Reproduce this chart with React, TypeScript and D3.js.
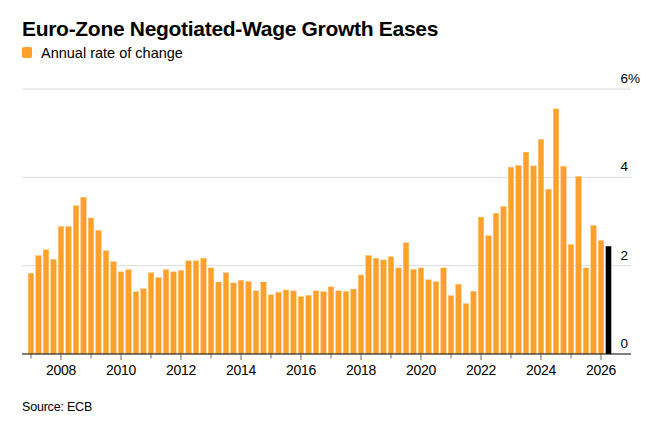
import React from "react";
import * as d3 from "d3";

const startYear = 2007;
const wageGrowth = [
  1.83, 2.23, 2.36, 2.14, 2.89, 2.89, 3.36, 3.55, 3.08, 2.8, 2.34, 2.09, 1.86, 1.91, 1.41, 1.48,
  1.84, 1.73, 1.91, 1.86, 1.89, 2.11, 2.11, 2.17, 1.95, 1.63, 1.84, 1.61, 1.67, 1.64, 1.43, 1.63,
  1.34, 1.4, 1.45, 1.43, 1.3, 1.33, 1.43, 1.41, 1.52, 1.43, 1.42, 1.47, 1.79, 2.23, 2.17, 2.13,
  2.2, 1.95, 2.52, 1.92, 1.95, 1.68, 1.64, 1.95, 1.32, 1.58, 1.14, 1.42, 3.1, 2.68, 3.19, 3.34,
  4.23, 4.27, 4.57, 4.26, 4.86, 3.73, 5.55, 4.25, 2.48, 4.02, 1.95, 2.91, 2.57, 2.44,
];
// quarter start positions (decimal years) as categories
const quarters = wageGrowth.map((_, i) => startYear + i / 4);
const highlightedCount = 1; // last bar drawn in black
const yTicks = [0, 2, 4, 6];
const yearTicks = d3.range(2007, 2027);
const yearLabels = d3.range(2008, 2027, 2);

const W = 664;
const H = 430;
const FONT = "'Liberation Sans', Arial, sans-serif";

export default function App() {
  const left = 22;
  const right = 631;
  const top = 89;
  const bottom = 354;
  const x = d3.scaleLinear().domain([2006.7, 2027.0]).range([left, right]);
  const y = d3.scaleLinear().domain([0, 6]).range([bottom, top]);
  const barW = 5.6;
  const n = wageGrowth.length;

  return (
    <svg
      width={W}
      height={H}
      style={{ position: "absolute", left: 0, top: 0, background: "#fff" }}
      fontFamily={FONT}
    >
      <text x={22} y={36} fontSize={21} fontWeight="bold" fill="#000" letterSpacing={-0.3}>
        Euro-Zone Negotiated-Wage Growth Eases
      </text>
      <rect x={22} y={47} width={10} height={11} rx={2} fill="#FFA02B" />
      <text x={41} y={58} fontSize={14.5} fill="#000">
        Annual rate of change
      </text>

      {yTicks
        .filter((t) => t > 0)
        .map((t) => (
          <line key={t} x1={left} x2={right} y1={y(t)} y2={y(t)} stroke="#dcdcdc" strokeWidth={1} />
        ))}

      {wageGrowth.map((v, i) => (
        <rect
          key={i}
          x={x(quarters[i]) - barW / 2}
          y={y(v)}
          width={barW}
          height={y(0) - y(v)}
          fill={i >= n - highlightedCount ? "#000" : "#FFA02B"}
          stroke={i >= n - highlightedCount ? "none" : "#FFC57A"}
          strokeWidth={0.4}
        />
      ))}

      {yTicks.map((t) => (
        <g key={t}>
          <text x={628} y={y(t) - 6} fontSize={13.5} textAnchor="end" fill="#000">
            {t}
          </text>
          {t === 6 && (
            <text x={628} y={y(t) - 6} fontSize={13.5} fill="#000">
              %
            </text>
          )}
        </g>
      ))}

      <line x1={left} x2={right} y1={bottom} y2={bottom} stroke="#000" strokeWidth={1.2} />
      {yearTicks.map((yr) => (
        <line
          key={yr}
          x1={x(yr)}
          x2={x(yr)}
          y1={bottom}
          y2={bottom + (yr % 2 === 0 ? 6 : 4.5)}
          stroke="#666"
          strokeWidth={1}
        />
      ))}
      {yearLabels.map((yr) => (
        <text key={yr} x={x(yr)} y={375} fontSize={14} textAnchor="middle" fill="#000" letterSpacing={-0.3}>
          {yr}
        </text>
      ))}

      <text x={22} y={411} fontSize={12.5} fill="#000" letterSpacing={-0.2}>
        Source: ECB
      </text>
    </svg>
  );
}
